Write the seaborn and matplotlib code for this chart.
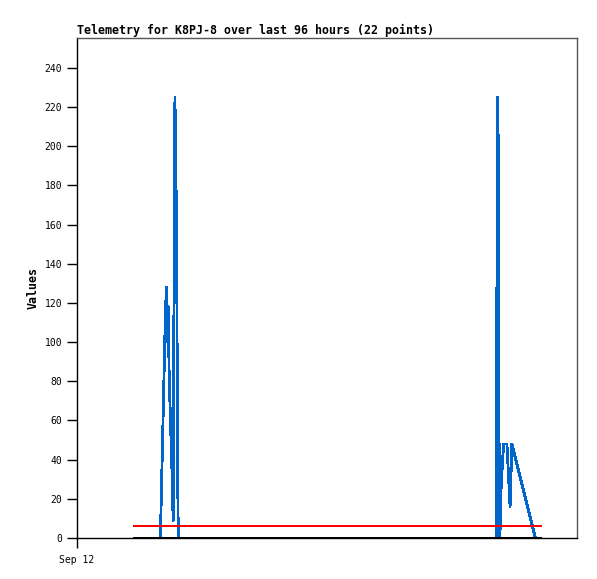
import numpy as np
import pandas as pd
import matplotlib
matplotlib.use("Agg")
import matplotlib.pyplot as plt
import seaborn as sns

# hours since Sep 12 00:00 (x axis spans 96 hours)
blue_hours = [16.0, 16.1, 17.0, 17.2, 17.4, 17.5, 17.7, 17.9, 18.1, 18.3, 18.45,
              18.6, 18.8, 19.0, 19.2, 19.3, 19.45,
              80.5, 80.6, 80.75, 80.95, 81.05, 81.2, 81.4, 81.6, 81.9, 82.55,
              82.85, 83.15, 83.5, 88.0]
blue_vals = [0, 11, 118, 128, 100, 118, 82, 64, 46, 28, 9,
             112, 225, 187, 112, 38, 0,
             0, 112, 225, 187, 38, 0, 24, 34, 48, 48,
             32, 16, 48, 0]
blue_burst = [1] * 17 + [2] * 14
red_hours = [10.9, 89.1]
red_vals = [6, 6]
black_hours = [10.9, 89.1]
black_vals = [0, 0]

sns.set_style("white")
plt.rcParams['font.family'] = ['DejaVu Sans Mono']
plt.rcParams['text.color'] = 'black'
plt.rcParams['axes.labelcolor'] = 'black'

fig = plt.figure(figsize=(5.97, 5.79), dpi=100)
ax = fig.add_axes([0.129, 0.0708, 0.8375, 0.8636])

blue = pd.DataFrame({'hour': blue_hours, 'value': blue_vals, 'burst': blue_burst})
red = pd.DataFrame({'hour': red_hours, 'value': red_vals})
black = pd.DataFrame({'hour': black_hours, 'value': black_vals})

sns.lineplot(data=blue, x='hour', y='value', units='burst', estimator=None, sort=False,
             color='#0066cc', lw=1.3, antialiased=False, ax=ax)
sns.lineplot(data=red, x='hour', y='value', sort=False, color='#ff0000', lw=1.4,
             antialiased=False, ax=ax)
sns.lineplot(data=black, x='hour', y='value', sort=False, color='black', lw=1.4,
             antialiased=False, clip_on=False, zorder=5, ax=ax)

ax.set_xlim(0, 96)
ax.set_ylim(0, 255.3)
ax.set_yticks(range(0, 241, 20))
ax.set_xticks([0])
ax.set_xticklabels(['Sep 12'])
ax.tick_params(axis='both', direction='out', length=7, width=1, labelsize=7,
               colors='black', bottom=True, left=True)
ax.tick_params(axis='x', pad=5)

for s in ['left', 'bottom']:
    ax.spines[s].set_color('black')
for s in ['top', 'right']:
    ax.spines[s].set_color('#555555')
for s in ax.spines.values():
    s.set_linewidth(1)

ax.set_xlabel('')
ax.set_ylabel('Values', fontsize=8.4, fontweight='bold', labelpad=4)
ax.set_title('Telemetry for K8PJ-8 over last 96 hours (22 points)', loc='left',
             fontsize=8.35, fontweight='bold', pad=3)

fig.savefig('out.png', dpi=100)
